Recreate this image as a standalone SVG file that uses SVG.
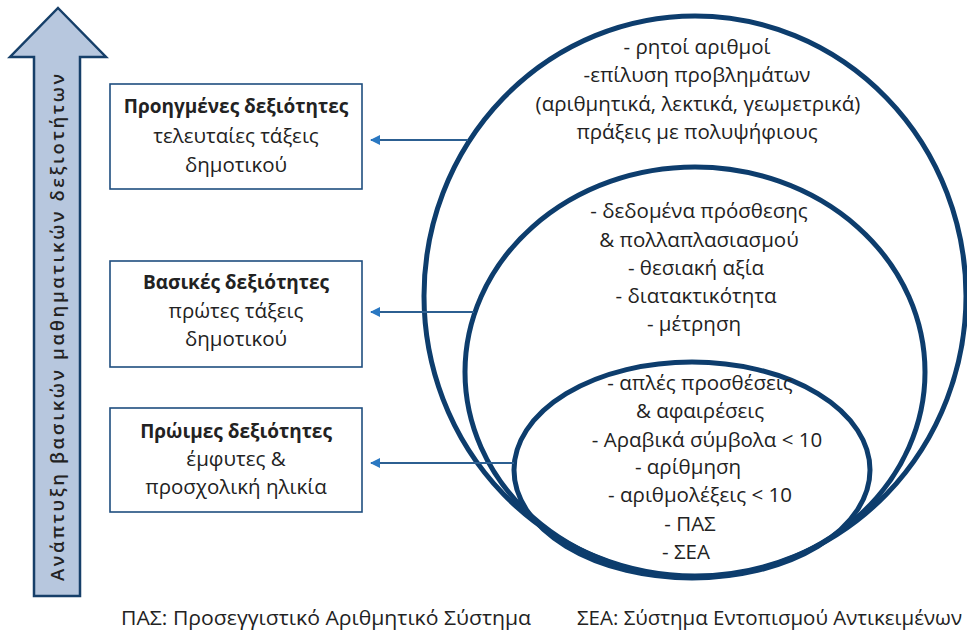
<svg xmlns="http://www.w3.org/2000/svg" width="967" height="632" viewBox="0 0 967 632">
<style>
text{font-family:"Open Sans","Noto Sans","DejaVu Sans",sans-serif;fill:#222;font-size:20.5px;text-anchor:middle}
.b{font-weight:bold;font-size:19px}
.box{fill:#fff;stroke:#1f4e7f;stroke-width:1.6}
.ell{fill:none;stroke:#0d3d6d;stroke-width:5}
.con{stroke:#2c5f91;stroke-width:2;fill:none;marker-end:url(#ah)}
.foot{font-size:19.5px;text-anchor:start}
</style>
<defs>
<marker id="ah" viewBox="0 0 10 10" refX="9" refY="5" markerWidth="5" markerHeight="5" orient="auto" markerUnits="strokeWidth">
<path d="M0,0 L10,5 L0,10 z" fill="#2a78c2"/>
</marker>
</defs>
<rect width="967" height="632" fill="#fff"/>
<g id="axis">
<path d="M58,8 L106,57 L80,57 L80,596 L34,596 L34,57 L10,57 Z" fill="#b7c7de" stroke="#163f69" stroke-width="2.5" stroke-linejoin="miter"/>
<text transform="translate(64,327) rotate(-90)" style="font-size:18.5px;letter-spacing:1px;font-weight:600" textLength="508" lengthAdjust="spacing">Ανάπτυξη βασικών μαθηματικών δεξιοτήτων</text>
</g>
<g id="ellipses">
<ellipse id="outer" class="ell" cx="695" cy="296" rx="271" ry="280"/>
<ellipse id="middle" class="ell" cx="695" cy="372" rx="230" ry="205"/>
<ellipse id="inner" class="ell" cx="692" cy="470" rx="178" ry="108"/>
</g>
<g id="connectors">
<line class="con" x1="468" y1="140" x2="371" y2="140"/>
<line class="con" x1="474" y1="312" x2="371" y2="312"/>
<line class="con" x1="514" y1="463" x2="371" y2="463"/>
</g>
<g id="box1">
<rect class="box" x="110" y="84" width="252" height="105"/>
<text x="236" y="113" class="b">Προηγμένες δεξιότητες</text>
<text x="236" y="143">τελευταίες τάξεις</text>
<text x="236" y="172">δημοτικού</text>
</g>
<g id="box2">
<rect class="box" x="110" y="261" width="252" height="106"/>
<text x="236" y="289" class="b">Βασικές δεξιότητες</text>
<text x="236" y="318">πρώτες τάξεις</text>
<text x="236" y="346">δημοτικού</text>
</g>
<g id="box3">
<rect class="box" x="110" y="408" width="252" height="104"/>
<text x="236" y="438" class="b">Πρώιμες δεξιότητες</text>
<text x="236" y="466">έμφυτες &amp;</text>
<text x="236" y="494">προσχολική ηλικία</text>
</g>
<g id="outer-text">
<text x="697" y="54">- ρητοί αριθμοί</text>
<text x="697" y="82">-επίλυση προβλημάτων</text>
<text x="698" y="111">(αριθμητικά, λεκτικά, γεωμετρικά)</text>
<text x="697" y="139">πράξεις με πολυψήφιους</text>
</g>
<g id="middle-text">
<text x="699" y="218">- δεδομένα πρόσθεσης</text>
<text x="699" y="247">&amp; πολλαπλασιασμού</text>
<text x="696" y="275">- θεσιακή αξία</text>
<text x="696" y="303">- διατακτικότητα</text>
<text x="694" y="331">- μέτρηση</text>
</g>
<g id="inner-text">
<text x="700" y="390">- απλές προσθέσεις</text>
<text x="700" y="418">&amp; αφαιρέσεις</text>
<text x="707" y="447">- Αραβικά σύμβολα &lt; 10</text>
<text x="688" y="474">- αρίθμηση</text>
<text x="700" y="502">- αριθμολέξεις &lt; 10</text>
<text x="690" y="531">- ΠΑΣ</text>
<text x="686" y="559">- ΣΕΑ</text>
</g>
<g id="footer">
<text class="foot" x="121" y="625" textLength="410" lengthAdjust="spacingAndGlyphs">ΠΑΣ: Προσεγγιστικό  Αριθμητικό Σύστημα</text>
<text class="foot" x="577" y="625" textLength="385" lengthAdjust="spacingAndGlyphs">ΣΕΑ: Σύστημα Εντοπισμού Αντικειμένων</text>
</g>
</svg>
